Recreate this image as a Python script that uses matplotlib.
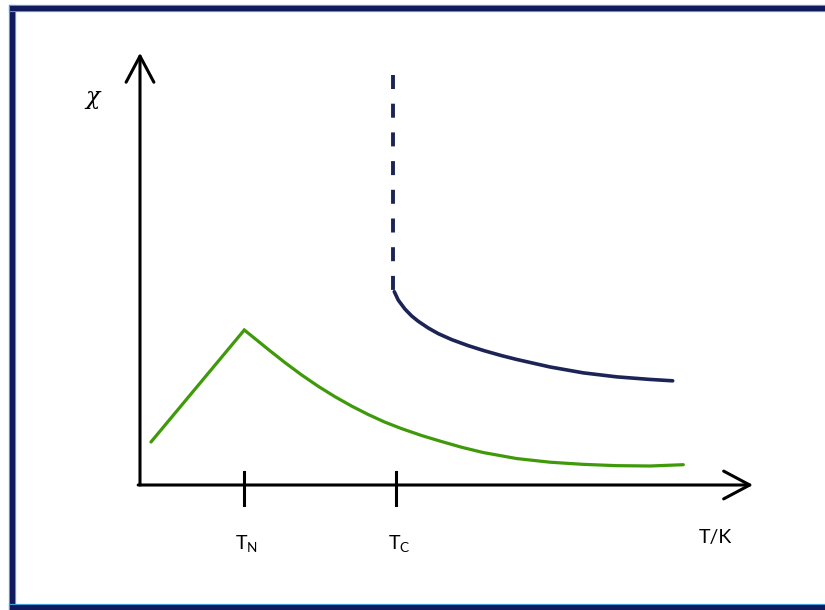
import matplotlib
matplotlib.use('Agg')
import matplotlib.pyplot as plt
from matplotlib.lines import Line2D

plt.rcParams['font.family'] = ['Lato', 'DejaVu Sans']
plt.rcParams['mathtext.fontset'] = 'custom'
plt.rcParams['mathtext.rm'] = 'Lato'
plt.rcParams['mathtext.it'] = 'DejaVu Serif:italic'

# sketch values (T in arbitrary units, chi in arbitrary units)
green_T = [1.80, 17.10, 18.85, 21.03, 23.77, 26.51, 29.23, 31.97, 34.70, 37.43, 40.16,
           42.90, 46.18, 49.46, 52.80, 56.28, 61.75, 67.21, 72.67, 78.15, 83.61, 89.07]
green_chi = [10.0, 36.05, 34.04, 31.53, 28.46, 25.58, 22.94, 20.53, 18.35, 16.38, 14.61,
             13.10, 11.50, 10.10, 8.75, 7.55, 6.15, 5.30, 4.80, 4.50, 4.42, 4.72]

blue_T = [41.69, 42.34, 43.44, 44.54, 45.62, 47.26, 48.90, 51.10, 53.82, 56.40,
          59.30, 61.75, 67.21, 72.67, 78.15, 83.61, 87.33]
blue_chi = [44.95, 43.00, 40.91, 39.31, 38.07, 36.51, 35.20, 33.81, 32.40, 31.24,
            30.08, 29.20, 27.45, 26.08, 25.15, 24.55, 24.23]

# diverging part above T_C, drawn dashed from the top down
dash_T = [41.5, 41.5]
dash_chi = [95.3, 44.9]

T_N = 17.0
T_C = 42.0
tick_labels = [r'T$_{\mathregular{N}}$', r'T$_{\mathregular{C}}$']

fig = plt.figure(figsize=(8.25, 6.10), dpi=100)
ax = fig.add_axes([0, 0, 1, 1])
ax.set_xlim(-22.95, 112.3)
ax.set_ylim(-29.07, 112.79)
ax.axis('off')

navy = '#1b2455'
green = '#3f9a0a'

ax.plot(green_T, green_chi, color=green, lw=2.3, solid_capstyle='round', solid_joinstyle='miter')
ax.plot(blue_T, blue_chi, color=navy, lw=2.6, solid_capstyle='round')
ax.plot(dash_T, dash_chi, color=navy, lw=2.8, dashes=(3.6, 3.78), dash_capstyle='butt')

# axes with open arrow heads
arrow = dict(arrowstyle='->,head_length=0.94,head_width=0.5', lw=2.2, color='black',
             mutation_scale=20, shrinkA=0, shrinkB=0)
ax.annotate('', xy=(0, 100.5), xytext=(0, 0), arrowprops=arrow)
ax.annotate('', xy=(100.5, 0), xytext=(-0.3, 0), arrowprops=arrow)

for t, lab in zip([T_N, T_C], tick_labels):
    ax.plot([t, t], [3.0, -4.7], color='black', lw=2.2)
    ax.text(t + 0.5, -13.5, lab, fontsize=14, ha='center', va='center')

ax.text(94.3, -12.3, 'T/K', fontsize=14, ha='center', va='center')
ax.text(-7.7, 89.5, r'$\chi$', fontsize=17, ha='center', va='center')

# frame around the picture (left, top, bottom)
fx0 = 12 / 825
fy_top = 1 - 8 / 610
fy_bot = 1 - 607 / 610
for xs, ys in [([fx0, fx0], [fy_bot, fy_top]),
               ([fx0, 1.0], [fy_top, fy_top]),
               ([fx0, 1.0], [fy_bot, fy_bot])]:
    fig.add_artist(Line2D(xs, ys, color='#3f9fe0', lw=5.2, transform=fig.transFigure))
    fig.add_artist(Line2D(xs, ys, color='#101a5c', lw=3.6, transform=fig.transFigure))

fig.savefig('out.png', dpi=100, facecolor='white')
